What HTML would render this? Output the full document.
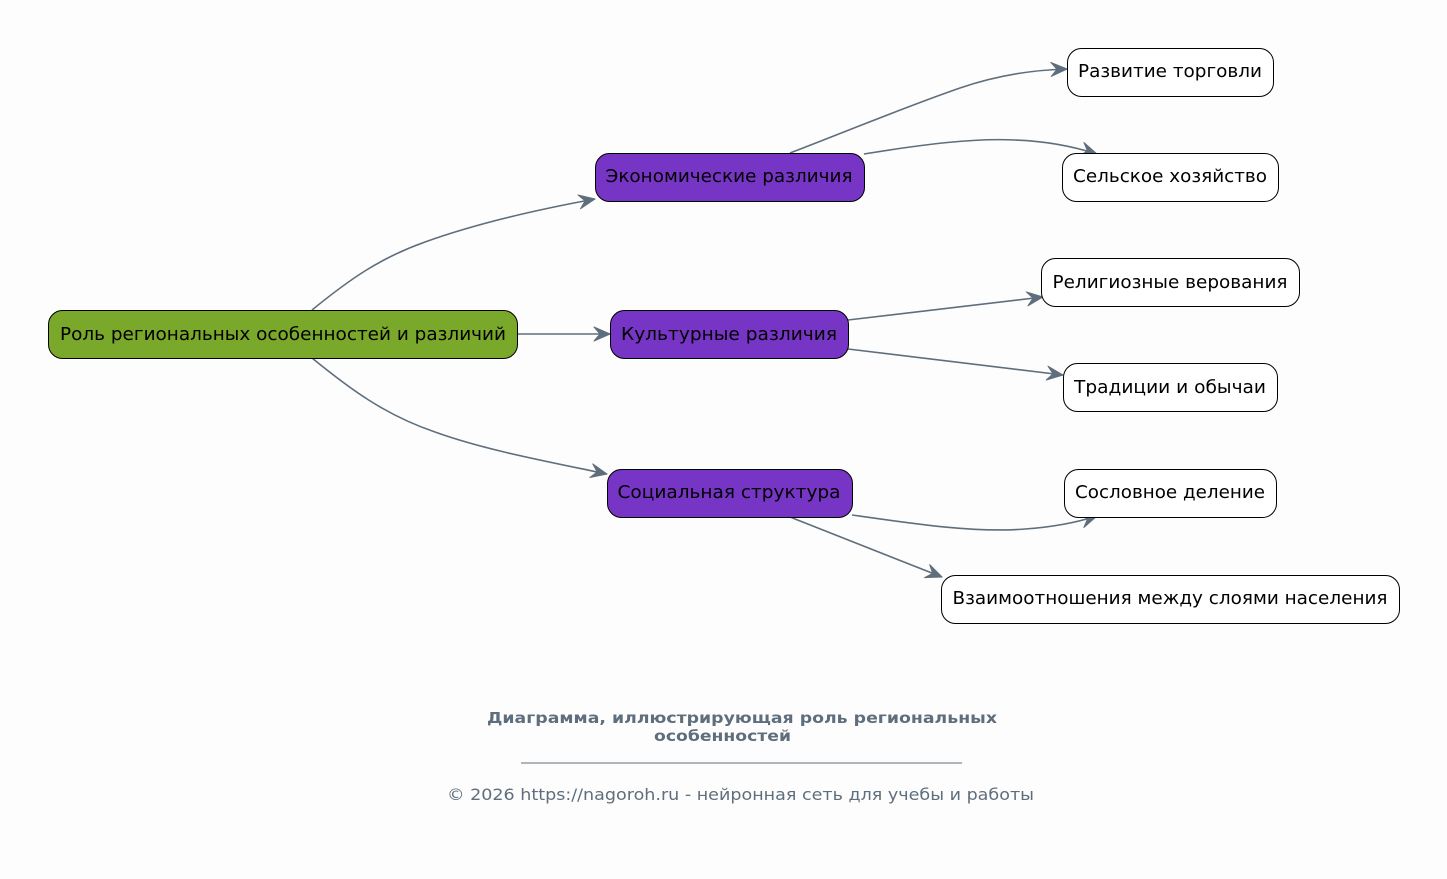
<!DOCTYPE html>
<html><head><meta charset="utf-8"><style>
html,body{margin:0;padding:0;background:#fdfdfd;}
svg{display:block;}
text{font-family:"DejaVu Sans","Liberation Sans",sans-serif;}
</style></head><body>
<svg width="1447" height="879" viewBox="0 0 1447 879" xmlns="http://www.w3.org/2000/svg">
<defs>
<marker id="ah" markerUnits="userSpaceOnUse" markerWidth="24" markerHeight="20" refX="18" refY="8" orient="auto" viewBox="0 0 24 20">
<path d="M18,8 L2,1 L8,8 L2,15 Z" fill="#5f6e7c" stroke="#5f6e7c" stroke-width="1" stroke-linejoin="round"/>
</marker>
</defs>
<rect width="1447" height="879" fill="#fdfdfd"/>
<g fill="none" stroke="#5f6e7c" stroke-width="1.6">
<path d="M312,310 C350,279 380,258 425,242 C475,224 535,210 595,199" marker-end="url(#ah)"/>
<path d="M517,334 L610,334" marker-end="url(#ah)"/>
<path d="M312,358 C350,389 385,415 435,432 C485,450 545,461 607,474" marker-end="url(#ah)"/>
<path d="M790,153 C850,130 905,107 960,88 C995,76 1030,70 1067,69" marker-end="url(#ah)"/>
<path d="M864,154 C925,144 975,138 1015,140 C1045,141 1072,146 1097,154" marker-end="url(#ah)"/>
<path d="M848,320 L1043,297" marker-end="url(#ah)"/>
<path d="M848,349 L1063,375" marker-end="url(#ah)"/>
<path d="M852,515 C915,524 975,533 1025,529 C1055,527 1078,522 1097,516" marker-end="url(#ah)"/>
<path d="M790,517 L942,577" marker-end="url(#ah)"/>
</g>
<g stroke="#000" stroke-width="1">
<rect x="48.5" y="310.5" width="469" height="48" rx="14" fill="#7aa82a"/>
<rect x="595.5" y="153.5" width="269" height="48" rx="14" fill="#7635c4"/>
<rect x="610.5" y="310.5" width="238" height="48" rx="14" fill="#7635c4"/>
<rect x="607.5" y="469.5" width="245" height="48" rx="14" fill="#7635c4"/>
<rect x="1067.5" y="48.5" width="206" height="48" rx="14" fill="#fff"/>
<rect x="1062.5" y="153.5" width="216" height="48" rx="14" fill="#fff"/>
<rect x="1041.5" y="258.5" width="258" height="48" rx="14" fill="#fff"/>
<rect x="1063.5" y="363.5" width="214" height="48" rx="14" fill="#fff"/>
<rect x="1064.5" y="469.5" width="212" height="48" rx="14" fill="#fff"/>
<rect x="941.5" y="575.5" width="458" height="48" rx="14" fill="#fff"/>
</g>
<g font-size="17.5" fill="#000" text-anchor="middle">
<text x="283" y="340" textLength="446" lengthAdjust="spacingAndGlyphs">Роль региональных особенностей и различий</text>
<text x="729" y="182" textLength="247" lengthAdjust="spacingAndGlyphs">Экономические различия</text>
<text x="729" y="340" textLength="216" lengthAdjust="spacingAndGlyphs">Культурные различия</text>
<text x="729" y="498" textLength="223" lengthAdjust="spacingAndGlyphs">Социальная структура</text>
<text x="1170" y="77" textLength="184" lengthAdjust="spacingAndGlyphs">Развитие торговли</text>
<text x="1170" y="182" textLength="194" lengthAdjust="spacingAndGlyphs">Сельское хозяйство</text>
<text x="1170" y="288" textLength="235" lengthAdjust="spacingAndGlyphs">Религиозные верования</text>
<text x="1170" y="393" textLength="192" lengthAdjust="spacingAndGlyphs">Традиции и обычаи</text>
<text x="1170" y="498" textLength="190" lengthAdjust="spacingAndGlyphs">Сословное деление</text>
<text x="1170" y="604" textLength="435" lengthAdjust="spacingAndGlyphs">Взаимоотношения между слоями населения</text>
</g>
<g fill="#5f6e7c" text-anchor="middle">
<text x="742" y="723" font-size="15" font-weight="bold" textLength="510" lengthAdjust="spacingAndGlyphs">Диаграмма, иллюстрирующая роль региональных</text>
<text x="722.5" y="741" font-size="15" font-weight="bold" textLength="137" lengthAdjust="spacingAndGlyphs">особенностей</text>
<text x="740.5" y="800" font-size="16" textLength="587" lengthAdjust="spacingAndGlyphs">© 2026 https://nagoroh.ru - нейронная сеть для учебы и работы</text>
</g>
<line x1="521" y1="763" x2="962" y2="763" stroke="#5f6e7c" stroke-width="1"/>
</svg>
</body></html>
